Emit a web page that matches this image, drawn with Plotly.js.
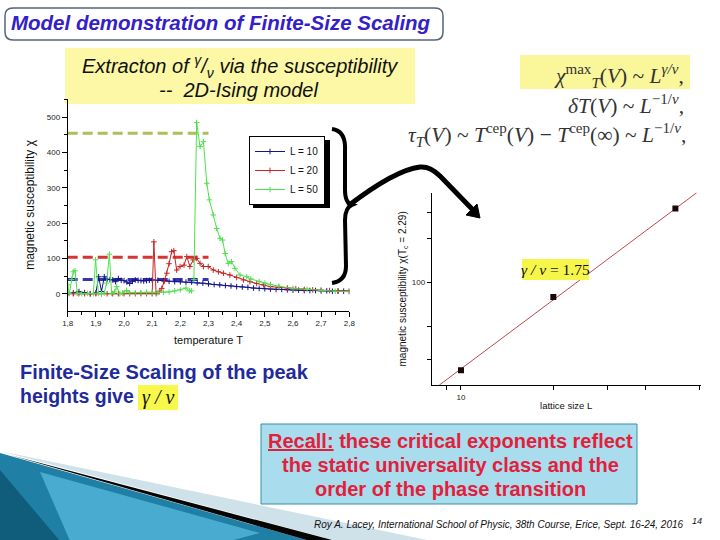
<!DOCTYPE html>
<html><head><meta charset="utf-8">
<script src="https://cdn.plot.ly/plotly-3.0.1.min.js"></script>
<style>html,body{margin:0;padding:0;background:#fff}#chart{width:720px;height:540px}</style>
</head><body><div id="chart"></div>
<script>
// ---------- data ----------
const seriesNames = ['L = 10', 'L = 20', 'L = 50'];
const T10 = [1.80,1.82,1.84,1.86,1.88,1.90,1.91,1.92,1.93,1.94,1.95,1.96,1.97,1.98,1.99,2.00,2.01,2.02,2.03,2.04,2.05,2.06,2.07,2.08,2.09,2.10,2.12,2.14,2.16,2.18,2.20,2.22,2.24,2.26,2.28,2.30,2.32,2.34,2.36,2.38,2.40,2.42,2.44,2.46,2.48,2.50,2.52,2.54,2.56,2.58,2.60,2.62,2.64,2.66,2.68,2.70,2.72,2.74,2.76,2.78,2.80];
const chi10 = [0,2,6,3,0,2,48,6,48,41,40,39,34,43,38,37,33,29,35,39,38,37,36,37,38,39,38,37,35,34,34,33,33,31,30,28,26,25,23,22,20,19,18,16,15,14,13,12,12,11,10,10,9,9,9,8,8,7,7,7,6];
const T20 = [1.80,1.82,1.84,1.86,1.88,1.90,1.92,1.94,1.96,1.98,2.00,2.02,2.04,2.06,2.08,2.10,2.106,2.114,2.125,2.134,2.143,2.152,2.16,2.169,2.177,2.187,2.199,2.213,2.223,2.234,2.246,2.258,2.27,2.282,2.299,2.317,2.335,2.353,2.376,2.40,2.424,2.447,2.471,2.495,2.52,2.55,2.58,2.61,2.64,2.67,2.70,2.73,2.76,2.80];
const chi20 = [0,0,0,0,0,0,0,0,0,0,0,0,0,0,0,0,147,0,5,15,35,58,85,119,122,67,77,81,105,77,96,100,86,77,77,67,62,58,53,46,39,34,29,25,20,18,16,14,12,11,10,9,8,8];
const T50 = [1.80,1.806,1.814,1.82,1.826,1.834,1.85,1.87,1.891,1.899,1.909,1.92,1.93,1.938,1.948,1.956,1.966,1.974,1.985,1.995,2.009,2.02,2.04,2.06,2.08,2.10,2.12,2.14,2.16,2.18,2.20,2.22,2.232,2.24,2.244,2.248,2.258,2.27,2.282,2.294,2.303,2.317,2.329,2.341,2.35,2.359,2.37,2.382,2.394,2.412,2.436,2.45,2.48,2.50,2.52,2.55,2.60,2.65,2.70,2.75,2.80];
const chi50 = [25,1,40,62,65,1,0,1,0,96,1,0,2,30,112,1,5,20,0,2,9,3,3,3,4,3,3,4,5,8,11,16,8,8,null,40,485,417,431,313,266,223,185,157,152,114,86,91,72,53,48,42,34,30,26,21,15,12,9,7,6];
const peakLevels = [40, 103, 455];      // dashed peak-height markers (L=10, 20, 50)
const peakRangeT = [1.8, 2.3];
const latticeL = [10, 20, 50];
const chiAtTc = [25.2, 79.4, 318];
const fitL = [8.5, 58.7];
const fitChi = [20, 407];
const logXMajor = [10], logXMinor = [9, 20, 30, 40, 60];
const logYMajor = [100], logYMinor = [20, 30, 50, 200, 300];

// ---------- helpers (pixel -> paper) ----------
const W = 720, H = 540;
const px = x => x / W, py = y => 1 - y / H;
function P(cmds) {
  return cmds.map(c => {
    let s = c[0];
    for (let i = 1; i < c.length; i += 2) s += ' ' + px(c[i]).toFixed(5) + ',' + py(c[i + 1]).toFixed(5);
    return s;
  }).join(' ');
}
function rect(x0, y0, x1, y1, fill, line, lw, layer) {
  return {type: 'rect', xref: 'paper', yref: 'paper', x0: px(x0), x1: px(x1), y0: py(y1), y1: py(y0),
    fillcolor: fill, line: {color: line || 'rgba(0,0,0,0)', width: lw || 0}, layer: layer || 'below'};
}
function pathShape(cmds, fill, line, lw, layer) {
  return {type: 'path', xref: 'paper', yref: 'paper', path: P(cmds), fillcolor: fill || 'rgba(0,0,0,0)',
    line: {color: line || 'rgba(0,0,0,0)', width: lw || 0}, layer: layer || 'above'};
}
function txt(x, y, text, size, color, family, anchor, extra) {
  return Object.assign({x: px(x), y: py(y), xref: 'paper', yref: 'paper', xanchor: anchor || 'center', yanchor: 'middle',
    showarrow: false, text: text, font: {family: family || 'Liberation Sans, Arial', size: size, color: color || '#111'}}, extra || {});
}

const colors = ['#14148c', '#c82424', '#4ee04e'];
const dashColors = ['#3535b0', '#d83232', '#a9c05c'];
const Ts = [T10, T20, T50], chis = [chi10, chi20, chi50];

const traces = [];
for (let i = 0; i < 3; i++) {
  traces.push({x: peakRangeT, y: [peakLevels[i], peakLevels[i]], mode: 'lines', xaxis: 'x', yaxis: 'y',
    line: {color: dashColors[i], width: 3, dash: '10px,5px'}, showlegend: false, hoverinfo: 'skip'});
}
for (let i = 0; i < 3; i++) {
  traces.push({x: Ts[i], y: chis[i], name: seriesNames[i], mode: 'lines+markers', xaxis: 'x', yaxis: 'y',
    line: {color: colors[i], width: 1}, connectgaps: false,
    marker: {symbol: 'cross-thin-open', size: 4, color: colors[i], line: {color: colors[i], width: 1}}});
}
traces.push({x: fitL, y: fitChi, mode: 'lines', xaxis: 'x2', yaxis: 'y2', line: {color: '#c04848', width: 1}, showlegend: false});
traces.push({x: latticeL, y: chiAtTc, mode: 'markers', xaxis: 'x2', yaxis: 'y2',
  marker: {symbol: 'square', size: 6, color: '#1a0808'}, showlegend: false});

const axisFont = {family: 'Liberation Sans, Arial', size: 8, color: '#222'};
const SERIF = 'Liberation Serif, DejaVu Serif';
const NARROW = 'Liberation Sans Narrow, Liberation Sans, Arial';
const layout = {
  width: W, height: H, margin: {l: 0, r: 0, t: 0, b: 0},
  paper_bgcolor: '#ffffff', plot_bgcolor: 'rgba(0,0,0,0)',
  separators: ', ',
  font: {family: 'Liberation Sans, Arial', color: '#111'},
  title: {text: '<b><i>Model demonstration of Finite-Size Scaling</i></b>', x: px(11), xanchor: 'left',
    y: py(23), yanchor: 'middle', xref: 'paper', font: {family: 'Liberation Sans, Arial', size: 20.5, color: '#3420c8'}},
  showlegend: true,
  legend: {x: px(249), y: py(136), xanchor: 'left', yanchor: 'top', bgcolor: '#ffffff', bordercolor: '#000',
    borderwidth: 1, font: {size: 10, color: '#111'}, itemwidth: 30, tracegroupgap: 0},
  xaxis: {domain: [px(67.7), px(349.3)], range: [1.8, 2.8], anchor: 'y', tick0: 1.8, dtick: 0.1, tickformat: '.1f',
    ticks: 'outside', ticklen: 5, tickcolor: '#000', showline: true, linecolor: '#000', linewidth: 1,
    showgrid: false, zeroline: false, tickfont: axisFont,
    minor: {dtick: 0.05, ticks: 'outside', ticklen: 3, tickcolor: '#000'},
    title: {text: 'temperature T', font: {size: 11, color: '#111'}, standoff: 9}},
  yaxis: {domain: [py(310.7), py(99)], range: [-48.2, 551.9], anchor: 'x', tick0: 0, dtick: 100,
    ticks: 'outside', ticklen: 5, tickcolor: '#000', showline: true, linecolor: '#000', linewidth: 1,
    showgrid: false, zeroline: false, tickfont: axisFont,
    minor: {dtick: 50, ticks: 'outside', ticklen: 3, tickcolor: '#000'},
    title: {text: 'magnetic susceptibility χ', font: {size: 12, color: '#111'}, standoff: 9}},
  xaxis2: {type: 'log', domain: [px(431.7), px(700.7)], range: [0.9045, 1.7815], anchor: 'y2',
    tickmode: 'array', tickvals: logXMajor,
    minor: {tickmode: 'array', tickvals: logXMinor, ticks: 'outside', ticklen: 4, tickcolor: '#000'},
    ticks: 'outside', ticklen: 4, tickcolor: '#000', showline: true, linecolor: '#000', linewidth: 1,
    showgrid: false, zeroline: false, tickfont: axisFont,
    title: {text: 'lattice size L', font: {size: 9.5, color: '#111'}, standoff: 1}},
  yaxis2: {type: 'log', domain: [py(385), py(192.7)], range: [1.3014, 2.6095], anchor: 'x2',
    tickmode: 'array', tickvals: logYMajor,
    minor: {tickmode: 'array', tickvals: logYMinor, ticks: 'outside', ticklen: 4, tickcolor: '#000'},
    ticks: 'outside', ticklen: 4, tickcolor: '#000', showline: true, linecolor: '#000', linewidth: 1,
    showgrid: false, zeroline: false, tickfont: axisFont,
    title: {text: 'magnetic susceptibility χ(T<sub>c</sub> = 2.29)', font: {size: 10, color: '#111'}, standoff: 3}},
  shapes: [
    // title frame
    pathShape([['M', 13, 8], ['L', 435, 8], ['Q', 443, 8, 443, 16], ['L', 443, 32], ['Q', 443, 40, 435, 40],
      ['L', 13, 40], ['Q', 5, 40, 5, 32], ['L', 5, 16], ['Q', 5, 8, 13, 8], ['Z']], null, '#56657a', 1.5, 'below'),
    // yellow boxes
    rect(65, 48, 415, 104, '#fcf8a6'),
    rect(520, 55, 690, 89, '#faf79a'),
    rect(138, 385, 178, 410, '#f8f84c'),
    rect(522, 259, 589, 280, '#f6f64a', null, 0, 'above'),
    // recall box
    rect(261, 424, 637, 504, '#a9dcec', '#3292ab', 1),
    // bottom-left decoration
    pathShape([['M', 0, 451], ['L', 432, 541], ['L', 337, 541], ['Z']], '#cfe2ea', null, 0, 'below'),
    pathShape([['M', 0, 453], ['L', 310, 541], ['L', 0, 541], ['Z']], '#1f7fa4', null, 0, 'below'),
    pathShape([['M', 40, 472], ['L', 260, 533], ['L', 230, 541], ['L', 70, 541], ['Z']], 'rgba(90,190,225,0.7)', null, 0, 'below'),
    pathShape([['M', 0, 470], ['L', 60, 541], ['L', 0, 541], ['Z']], 'rgba(5,70,95,0.6)', null, 0, 'below'),
    pathShape([['M', 10, 455], ['L', 336, 541], ['L', 310, 541], ['Z']], '#050505', null, 0, 'below'),
    // legend shadow
    rect(253, 140, 330, 208, '#000000', null, 0, 'above'),
    // brace
    pathShape([['M', 332, 129], ['Q', 346, 131, 345, 150], ['L', 345, 190], ['Q', 345, 203, 352, 205],
      ['Q', 345, 208, 345, 220], ['L', 346, 266], ['Q', 346, 281, 332, 283]], null, '#000', 4),
    // arrow
    pathShape([['M', 348, 206], ['Q', 395, 170, 420, 167], ['Q', 430, 166, 440, 176], ['L', 473, 210]], null, '#000', 5),
    pathShape([['M', 480, 218], ['L', 477, 204], ['L', 466, 215], ['Z']], '#000', '#000', 1)
  ],
  annotations: [
    txt(240, 66, '<i>Extracton of <sup>γ</sup>/<sub>ν</sub> via the susceptibility</i>', 20),
    txt(238, 90, '<i>--  2D-Ising model</i>', 20),
    txt(686, 76, '<i>χ</i><sup>max</sup><sub><i>T</i></sub>(<i>V</i>) ~ <i>L</i><sup><i>γ/ν</i></sup>,', 21.5, '#333', SERIF, 'right'),
    txt(686, 105, '<i>δT</i>(<i>V</i>) ~ <i>L</i><sup>−1/<i>ν</i></sup>,', 21.5, '#333', SERIF, 'right'),
    txt(688, 135, '<i>τ<sub>T</sub></i>(<i>V</i>) ~ <i>T</i><sup>cep</sup>(<i>V</i>) − <i>T</i><sup>cep</sup>(∞) ~ <i>L</i><sup>−1/<i>ν</i></sup>,', 21.5, '#333', SERIF, 'right'),
    txt(18, 372, '<b>Finite-Size Scaling of the peak</b>', 20, '#1f2a9c', null, 'left'),
    txt(18, 396, '<b>heights give</b>', 19.5, '#1f2a9c', null, 'left'),
    txt(158, 397, '<i>γ / ν</i>', 20, '#111', SERIF),
    txt(555.5, 269.5, '<i>γ / ν</i> = 1.75', 15.5, '#111', SERIF),
    txt(450, 441, '<b><u>Recall:</u> these critical exponents reflect</b>', 20, '#e2203c', NARROW),
    txt(450, 465, '<b>the static universality class and the</b>', 20, '#e2203c', NARROW),
    txt(450, 489, '<b>order of the phase transition</b>', 20, '#e2203c', NARROW),
    txt(686, 524, '<i>Roy A. Lacey, International School of Physic, 38th Course, Erice, Sept. 16-24, 2016</i>', 10, '#111', NARROW, 'right'),
    txt(697, 521, '<i>14</i>', 9)
  ]
};
Plotly.newPlot('chart', traces, layout, {displayModeBar: false, staticPlot: true});
</script>
</body></html>
